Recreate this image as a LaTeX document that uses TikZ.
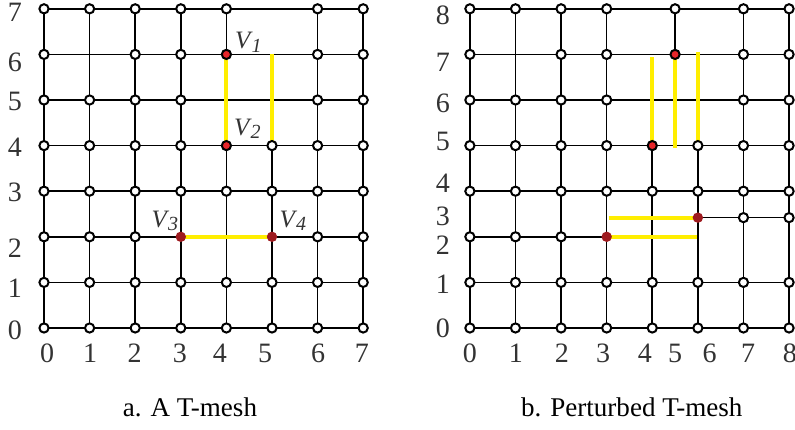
\documentclass[tikz,border=0pt]{standalone}
\usepackage{fontspec}
\setmainfont{Liberation Serif}
\usepackage{tikz}
\usetikzlibrary{positioning}
\definecolor{tyellow}{HTML}{FFEE00}
\definecolor{vred}{HTML}{E8262A}
\definecolor{vdark}{HTML}{9E1B20}
\definecolor{inkgray}{HTML}{333333}
\newcommand{\vsub}[1]{\textit{V}\kern-0.6pt\raisebox{-0.3ex}{\fontsize{10}{12}\selectfont\itshape #1}}

\begin{document}
\begin{tikzpicture}[
  x=0.8cm, y=0.8cm,
  meshline/.style={draw=black, line width=0.8pt},
  tline/.style={draw=tyellow, line width=2pt},
  vtx/.style={circle, draw=black, fill=white, line width=1pt, inner sep=0pt, minimum size=4.6pt},
  redvtx/.style={vtx, fill=vred},
  darkvtx/.style={circle, fill=vdark, inner sep=0pt, minimum size=5.2pt},
  axislabel/.style={font=\fontsize{14}{16}\selectfont, text=inkgray, inner sep=0pt},
  vlabel/.style={font=\fontsize{12.5}{14}\selectfont, text=inkgray, inner sep=0pt},
  caption/.style={font=\fontsize{13.5}{16}\selectfont, text=black, inner sep=0pt}
]
  \useasboundingbox (-0.965,-2.237) rectangle (16.47,7.193);

  % Left mesh: a. A T-mesh
  \foreach \i in {0,...,7}
    \foreach \j in {0,...,7}
      \coordinate (a-\i-\j) at (\i,\j);

  % horizontal lines
  \foreach \j in {0,1,3,4,5,6,7}
    \draw[meshline] (a-0-\j) -- (a-7-\j);
  \draw[meshline] (a-0-2) -- (a-3-2);
  \draw[meshline] (a-5-2) -- (a-7-2);
  % vertical lines
  \foreach \i in {0,1,2,3,6,7}
    \draw[meshline] (a-\i-0) -- (a-\i-7);
  \draw[meshline] (a-4-7) -- (a-4-6);
  \draw[meshline] (a-4-4) -- (a-4-0);
  \draw[meshline] (a-5-4) -- (a-5-0);
  % highlighted edges
  \draw[tline] (a-4-6) -- (a-4-4);
  \draw[tline] (a-5-6) -- (a-5-4);
  \draw[tline] (a-3-2) -- (a-5-2);

  % vertices
  \foreach \j/\cols in {7/{0,1,2,3,4,6,7}, 6/{0,2,3,6,7}, 5/{0,1,2,3,6,7}, 4/{0,1,2,3,5,6,7},
                        3/{0,...,7}, 2/{0,1,2,6,7}, 1/{0,...,7}, 0/{0,...,7}}
    \foreach \i in \cols
      \node[vtx] (va-\i-\j) at (a-\i-\j) {};
  \node[redvtx] (V1) at (a-4-6) {};
  \node[redvtx] (V2) at (a-4-4) {};
  \node[darkvtx] (V3) at (a-3-2) {};
  \node[darkvtx] (V4) at (a-5-2) {};

  \node[vlabel] (V1-lab) at ([shift={(0.48,0.27)}]V1) {\vsub{1}};
  \node[vlabel] (V2-lab) at ([shift={(0.46,0.37)}]V2) {\vsub{2}};
  \node[vlabel] (V3-lab) at ([shift={(-0.35,0.35)}]V3) {\vsub{3}};
  \node[vlabel] (V4-lab) at ([shift={(0.46,0.35)}]V4) {\vsub{4}};

  % axis labels
  \foreach \x [count=\n from 0] in {0.07,1.01,1.99,2.98,3.86,4.85,6.01,6.97}
    \node[axislabel] (ax-\n) at (\x,-0.55) {\n};
  \foreach \y [count=\n from 0] in {-0.04,0.88,1.75,2.98,3.97,4.96,5.83,6.93}
    \node[axislabel] (ay-\n) at (-0.64,\y) {\n};

  \node[caption] (cap-a) at (3.2,-1.75) {a. A T-mesh};

  % Right mesh: b. Perturbed T-mesh
  \begin{scope}[xshift=7.472cm]
    \foreach \x [count=\i from 0] in {0,1,2,3,4,4.5,5,6,7}
      \foreach \y [count=\j from 0] in {0,1,2,2.42,3,4,5,6,7}
        \coordinate (b-\i-\j) at (\x,\y);

    % horizontal lines
    \foreach \j in {0,1,4,5,6,7,8}
      \draw[meshline] (b-0-\j) -- (b-8-\j);
    \draw[meshline] (b-0-2) -- (b-3-2);
    \draw[meshline] (b-6-3) -- (b-8-3);
    % vertical lines
    \foreach \i in {0,1,2,3,7,8}
      \draw[meshline] (b-\i-0) -- (b-\i-8);
    \draw[meshline] (b-4-0) -- (b-4-5);
    \draw[meshline] (b-5-8) -- (b-5-7);
    \draw[meshline] (b-6-0) -- (b-6-5);
    % highlighted edges
    \draw[tline] ([yshift=-1.5pt]b-4-7) -- (b-4-5);
    \draw[tline] (b-5-7) -- ([yshift=-1pt]b-5-5);
    \draw[tline] ([yshift=1pt]b-6-7) -- (b-6-5);
    \draw[tline] ([xshift=1pt]b-3-3) -- (b-6-3);
    \draw[tline] (b-3-2) -- ([xshift=-0.5pt]b-6-2);

    % vertices
    \foreach \j/\cols in {8/{0,1,2,3,5,7,8}, 7/{0,2,3,7,8}, 6/{0,1,2,3,7,8}, 5/{0,1,2,3,6,7,8},
                          4/{0,1,2,3,4,6,7,8}, 3/{7,8}, 2/{0,1,2}, 1/{0,1,2,3,4,6,7,8}, 0/{0,1,2,3,4,6,7,8}}
      \foreach \i in \cols
        \node[vtx] (vb-\i-\j) at (b-\i-\j) {};
    \node[redvtx] (W1) at (b-5-7) {};
    \node[redvtx] (W2) at (b-4-5) {};
    \node[darkvtx] (W3) at (b-3-2) {};
    \node[darkvtx] (W4) at (b-6-3) {};

    % axis labels
    \foreach \x [count=\n from 0] in {0,1.01,2.02,2.92,3.84,4.5,5.26,6.1,7.02}
      \node[axislabel] (bx-\n) at (\x,-0.55) {\n};
    \foreach \y [count=\n from 0] in {0,0.96,1.82,2.45,3.17,4.1,4.92,5.82,6.86}
      \node[axislabel] (by-\n) at (-0.59,\y) {\n};

    \node[caption] (cap-b) at (3.55,-1.75) {b. Perturbed T-mesh};
  \end{scope}

\end{tikzpicture}
\end{document}
